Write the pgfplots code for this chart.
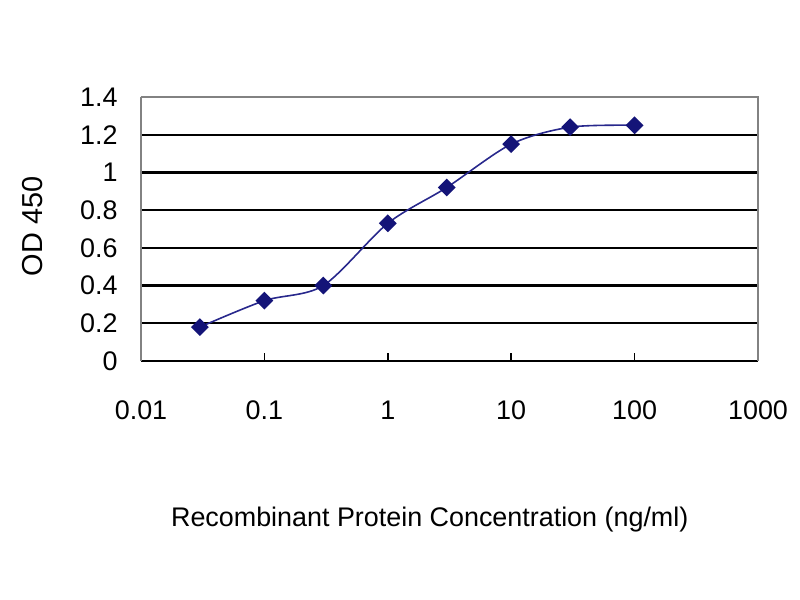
\documentclass[border=0pt]{standalone}
\usepackage{pgfplots}
\pgfplotsset{compat=1.18}
\usepackage{fontspec}
\setmainfont{Liberation Sans}
\definecolor{navymark}{RGB}{20,20,120}
\definecolor{navyline}{RGB}{40,40,140}
\definecolor{frame}{RGB}{130,130,130}
\begin{document}
\begin{tikzpicture}[x=1bp,y=1bp]
\useasboundingbox (-141,-239) rectangle (659,361);
\begin{axis}[
  at={(0,0)}, anchor=south west,
  scale only axis, width=617bp, height=264bp,
  xmode=log, xmin=0.01, xmax=1000,
  ymin=0, ymax=1.4,
  axis lines*=left,
  separate axis lines,
  x axis line style={black, line width=2.2pt},
  y axis line style={frame, line width=2pt},
  xtick={0.01,0.1,1,10,100,1000},
  xticklabels={0.01,0.1,1,10,100,1000},
  xminorticks=false,
  xtick align=inside,
  major tick length=8bp,
  xtick style={black, line width=1.5pt},
  ytick={0,0.2,0.4,0.6,0.8,1,1.2,1.4},
  yticklabels={0,0.2,0.4,0.6,0.8,1,1.2,1.4},
  ytick style={draw=none},
  ymajorgrids,
  major grid style={black, line width=2.2pt},
  /pgf/number format/assume math mode=true,
  tick label style={font=\fontsize{27}{30}\selectfont},
  xticklabel style={anchor=center, yshift=-49bp},
  yticklabel style={anchor=east, xshift=-20bp},
  xlabel={Recombinant Protein Concentration (ng/ml)},
  xlabel style={font=\fontsize{27}{30}\selectfont, at={(axis description cs:0.468,-0.602)}, anchor=center},
  ylabel={OD 450},
  ylabel style={font=\fontsize{29}{32}\selectfont, at={(axis description cs:-0.175,0.51)}, anchor=center, rotate=0},
  clip=false,
]
\addplot[smooth, color=navyline, line width=1.6pt, mark=square*, mark size=5.5bp,
  mark options={rotate=45, fill=navymark, draw=navymark, solid}]
  coordinates {(0.03,0.18) (0.1,0.32) (0.3,0.40) (1,0.73) (3,0.92) (10,1.15) (30,1.24) (100,1.25)};
\draw[frame, line width=2.4pt] (rel axis cs:0,1) -- (rel axis cs:1,1) -- (rel axis cs:1,0);
\end{axis}
\end{tikzpicture}
\end{document}
